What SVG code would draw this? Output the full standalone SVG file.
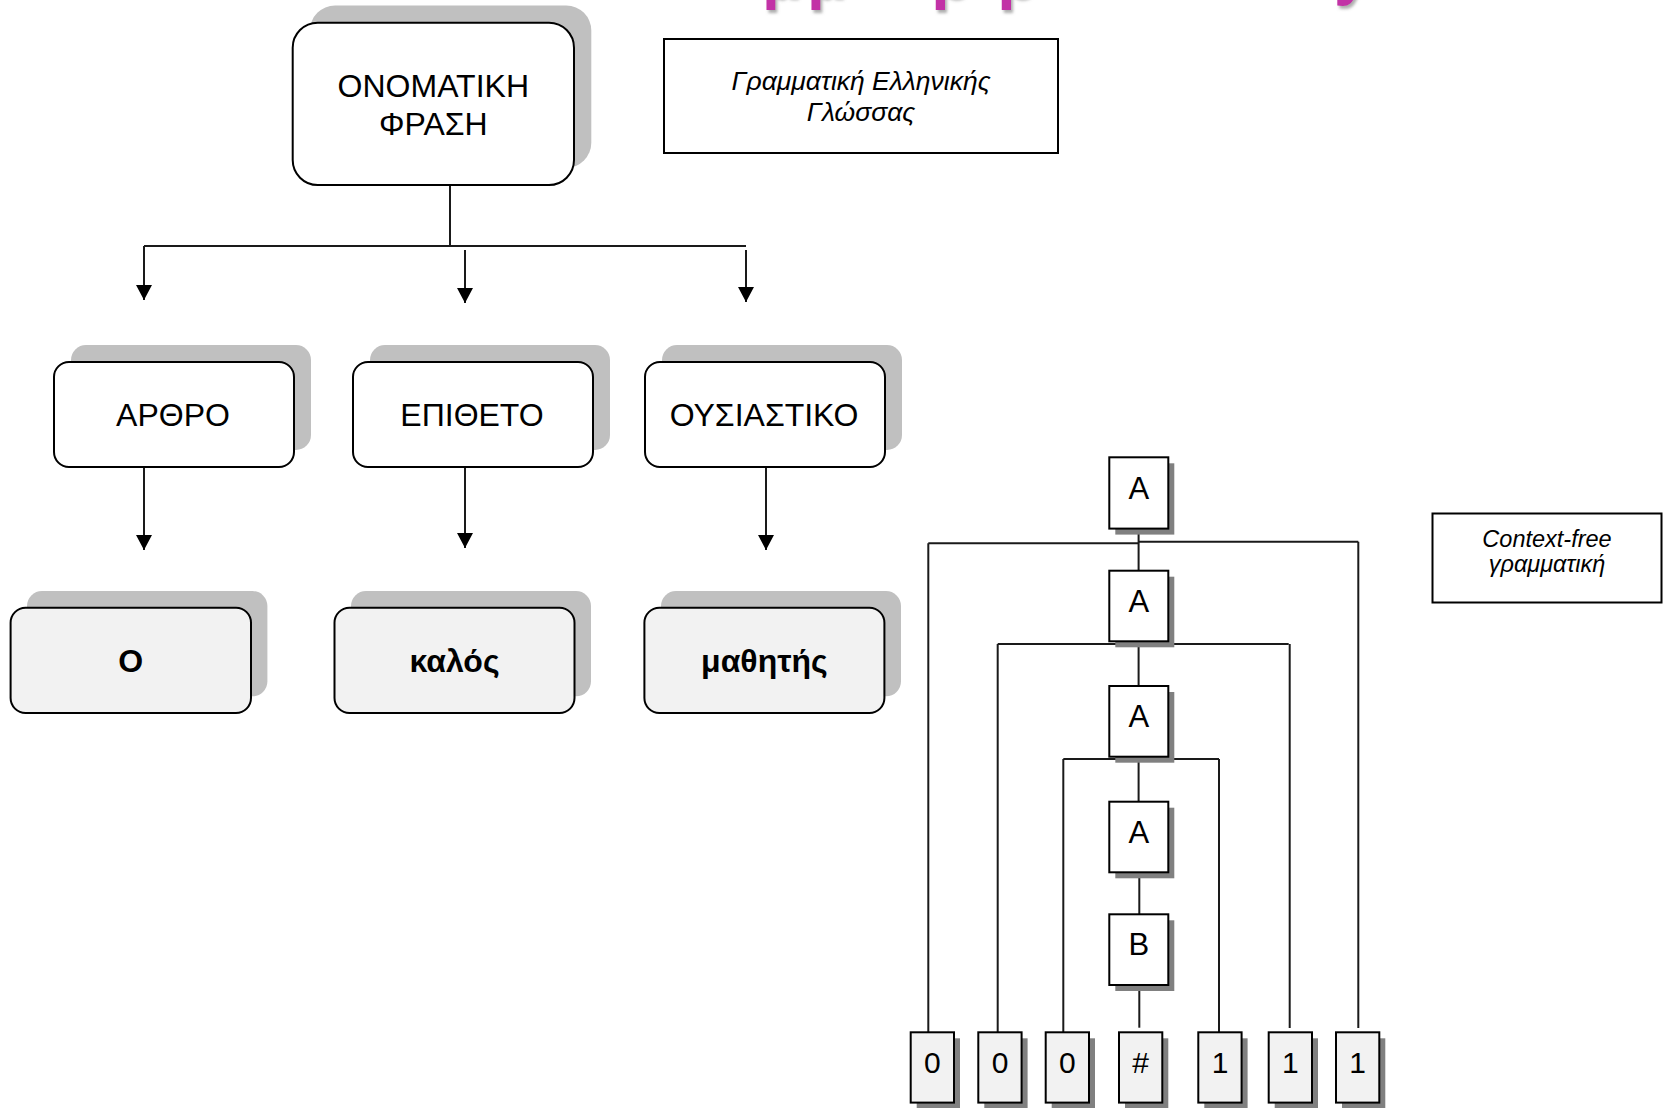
<svg xmlns="http://www.w3.org/2000/svg" width="1664" height="1108" viewBox="0 0 1664 1108">
  <defs>
    <marker id="arrowhead" markerUnits="userSpaceOnUse" markerWidth="15" markerHeight="16" viewBox="0 0 15 16" refX="15" refY="8" orient="auto">
      <path d="M0,0 L15,8 L0,16 Z" fill="#000"/>
    </marker>
    <filter id="titleShadow" x="-20%" y="-20%" width="140%" height="160%">
      <feDropShadow dx="2" dy="3" stdDeviation="1.5" flood-color="#777" flood-opacity="0.6"/>
    </filter>
  </defs>
  <style>
    text { font-family: "Liberation Sans", Arial, "DejaVu Sans", sans-serif; fill: #000; text-anchor: middle; }
    .title { font-size: 64px; font-weight: bold; fill: #c232a6; text-anchor: start; }
    .cap { font-size: 32px; }
    .word { font-size: 32px; font-weight: bold; }
    .note { font-size: 26.5px; font-style: italic; }
    .note-sm { font-size: 23.5px; font-style: italic; }
    .sym { font-size: 31px; }
    .leaf-t { font-size: 30px; }
    .rshadow { fill: #c0c0c0; }
    .rbox { fill: #fff; stroke: #000; stroke-width: 2; }
    .wbox { fill: #f2f2f2; stroke: #000; stroke-width: 2; }
    .frame { fill: #fff; stroke: #000; stroke-width: 2; }
    .sqshadow { fill: #808080; }
    .sq { fill: #fff; stroke: #000; stroke-width: 2; }
    .leafbox { fill: #f2f2f2; stroke: #000; stroke-width: 2; }
    .link { fill: none; stroke: #1a1a1a; stroke-width: 2; }
    .arrow { fill: none; stroke: #1a1a1a; stroke-width: 2; marker-end: url(#arrowhead); }
  </style>

  <!-- heading running off the top edge -->
  <g id="heading" filter="url(#titleShadow)">
    <text class="title" x="762 807 932 998 1334" y="-3.5 -3.5 -3.5 -3.5 -7">μμρρy</text>
  </g>

  <g id="connectors">
    <!-- noun phrase tree -->
    <path class="link" d="M450,185 V246"/>
    <path class="link" d="M144,246 H746"/>
    <path class="arrow" d="M144,246 V300"/>
    <path class="arrow" d="M465,250 V303"/>
    <path class="arrow" d="M746,250 V302"/>
    <path class="arrow" d="M144,467 V550"/>
    <path class="arrow" d="M465,463 V548"/>
    <path class="arrow" d="M766,467 V550"/>

    <!-- parse tree -->
    <path class="link" d="M928.3,543.3 H1138.7"/>
    <path class="link" d="M1138.7,541.7 H1358.3"/>
    <path class="link" d="M928.3,543.3 V1032.3"/>
    <path class="link" d="M1358.3,541.7 V1028"/>
    <path class="link" d="M997.7,644 H1288.7"/>
    <path class="link" d="M997.7,644 V1032.3"/>
    <path class="link" d="M1289.7,644 V1028"/>
    <path class="link" d="M1063.3,759 H1219"/>
    <path class="link" d="M1063.3,759 V1032.3"/>
    <path class="link" d="M1219,759 V1032.3"/>
    <path class="link" d="M1138.6,529 V570.7"/>
    <path class="link" d="M1138.6,641.3 V686"/>
    <path class="link" d="M1138.6,756.7 V801.7"/>
    <path class="link" d="M1139.3,872.3 V914.3"/>
    <path class="link" d="M1139.3,985 V1027.7"/>
  </g>

  <!-- noun phrase -->
  <g id="n-phrase">
    <rect class="rshadow" x="310" y="5.5" width="281.3" height="162.3" rx="25"/>
    <rect class="rbox" x="292.7" y="22.7" width="281.3" height="162.3" rx="25"/>
    <text class="cap" x="433.3" y="97">ΟΝΟΜΑΤΙΚΗ</text>
    <text class="cap" x="433.3" y="135">ΦΡΑΣΗ</text>
  </g>

  <g id="n-note-greek">
    <rect class="frame" x="664" y="39" width="394" height="114"/>
    <text class="note" x="861" y="90">Γραμματική Ελληνικής</text>
    <text class="note" x="861" y="121">Γλώσσας</text>
  </g>

  <g id="n-arthro">
    <rect class="rshadow" x="71" y="345" width="240" height="105" rx="15"/>
    <rect class="rbox" x="54" y="362" width="240" height="105" rx="15"/>
    <text class="cap" x="173" y="426">ΑΡΘΡΟ</text>
  </g>
  <g id="n-epitheto">
    <rect class="rshadow" x="370" y="345" width="240" height="105" rx="15"/>
    <rect class="rbox" x="353" y="362" width="240" height="105" rx="15"/>
    <text class="cap" x="472" y="426">ΕΠΙΘΕΤΟ</text>
  </g>
  <g id="n-ousiastiko">
    <rect class="rshadow" x="662" y="345" width="240" height="105" rx="15"/>
    <rect class="rbox" x="645" y="362" width="240" height="105" rx="15"/>
    <text class="cap" x="764" y="426">ΟΥΣΙΑΣΤΙΚΟ</text>
  </g>

  <g id="n-o">
    <rect class="rshadow" x="27" y="591" width="240.4" height="105.3" rx="15"/>
    <rect class="wbox" x="10.6" y="607.7" width="240.4" height="105.3" rx="15"/>
    <text class="word" x="130.8" y="671.5">Ο</text>
  </g>
  <g id="n-kalos">
    <rect class="rshadow" x="351" y="591" width="240" height="105.3" rx="15"/>
    <rect class="wbox" x="334.5" y="607.7" width="240" height="105.3" rx="15"/>
    <text class="word" x="454.5" y="671.5">καλός</text>
  </g>
  <g id="n-mathitis">
    <rect class="rshadow" x="661" y="591" width="240" height="105.3" rx="15"/>
    <rect class="wbox" x="644.4" y="607.7" width="240" height="105.3" rx="15"/>
    <text class="word" x="764.4" y="671.5">μαθητής</text>
  </g>

  <!-- parse tree nodes -->
  <g id="n-a1">
    <rect class="sqshadow" x="1115.3" y="463.3" width="59" height="71.3"/>
    <rect class="sq" x="1109.3" y="457.3" width="59" height="71.3"/>
    <text class="sym" x="1138.8" y="499">A</text>
  </g>
  <g id="n-a2">
    <rect class="sqshadow" x="1115.3" y="576.7" width="59" height="70.6"/>
    <rect class="sq" x="1109.3" y="570.7" width="59" height="70.6"/>
    <text class="sym" x="1138.8" y="612">A</text>
  </g>
  <g id="n-a3">
    <rect class="sqshadow" x="1115.3" y="692" width="59" height="70.7"/>
    <rect class="sq" x="1109.3" y="686" width="59" height="70.7"/>
    <text class="sym" x="1138.8" y="727">A</text>
  </g>
  <g id="n-a4">
    <rect class="sqshadow" x="1115.3" y="807.7" width="59" height="70.6"/>
    <rect class="sq" x="1109.3" y="801.7" width="59" height="70.6"/>
    <text class="sym" x="1138.8" y="842.5">A</text>
  </g>
  <g id="n-b">
    <rect class="sqshadow" x="1115.3" y="920.3" width="59" height="70.7"/>
    <rect class="sq" x="1109.3" y="914.3" width="59" height="70.7"/>
    <text class="sym" x="1138.8" y="954.5">B</text>
  </g>

  <g id="leaf-1">
    <rect class="sqshadow" x="916.7" y="1038.3" width="43.3" height="70.3"/>
    <rect class="leafbox" x="910.7" y="1032.3" width="43.3" height="70.3"/>
    <text class="leaf-t" x="932.3" y="1072.7">0</text>
  </g>
  <g id="leaf-2">
    <rect class="sqshadow" x="984.3" y="1038.3" width="43.3" height="70.3"/>
    <rect class="leafbox" x="978.3" y="1032.3" width="43.3" height="70.3"/>
    <text class="leaf-t" x="1000" y="1072.7">0</text>
  </g>
  <g id="leaf-3">
    <rect class="sqshadow" x="1051.7" y="1038.3" width="43.3" height="70.3"/>
    <rect class="leafbox" x="1045.7" y="1032.3" width="43.3" height="70.3"/>
    <text class="leaf-t" x="1067.3" y="1072.7">0</text>
  </g>
  <g id="leaf-4">
    <rect class="sqshadow" x="1125" y="1038.3" width="43.3" height="70.3"/>
    <rect class="leafbox" x="1119" y="1032.3" width="43.3" height="70.3"/>
    <text class="leaf-t" x="1140.7" y="1072.7">#</text>
  </g>
  <g id="leaf-5">
    <rect class="sqshadow" x="1204.3" y="1038.3" width="43.3" height="70.3"/>
    <rect class="leafbox" x="1198.3" y="1032.3" width="43.3" height="70.3"/>
    <text class="leaf-t" x="1220" y="1072.7">1</text>
  </g>
  <g id="leaf-6">
    <rect class="sqshadow" x="1274.7" y="1038.3" width="43.3" height="70.3"/>
    <rect class="leafbox" x="1268.7" y="1032.3" width="43.3" height="70.3"/>
    <text class="leaf-t" x="1290.3" y="1072.7">1</text>
  </g>
  <g id="leaf-7">
    <rect class="sqshadow" x="1342" y="1038.3" width="43.3" height="70.3"/>
    <rect class="leafbox" x="1336" y="1032.3" width="43.3" height="70.3"/>
    <text class="leaf-t" x="1357.7" y="1072.7">1</text>
  </g>

  <g id="n-note-cfg">
    <rect class="frame" x="1432.5" y="513.5" width="229" height="89"/>
    <text class="note-sm" x="1547" y="546.5">Context-free</text>
    <text class="note-sm" x="1547" y="572">γραμματική</text>
  </g>
</svg>
